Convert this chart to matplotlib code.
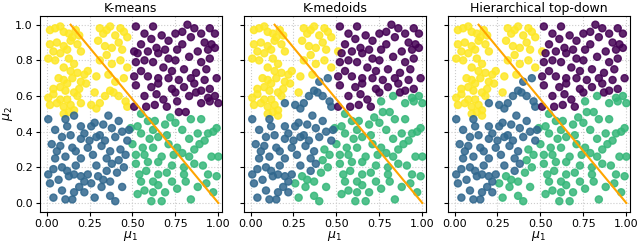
import matplotlib
matplotlib.use("Agg")
import matplotlib.pyplot as plt

# points: (mu1, mu2, k-means label, k-medoids label, hierarchical label)
# Y = yellow, P = purple, B = blue, G = green
points = [
    # upper left
    (0.02, 0.97, "Y", "Y", "Y"), (0.05, 0.98, "Y", "Y", "Y"), (0.08, 0.99, "Y", "Y", "Y"),
    (0.10, 0.96, "Y", "Y", "Y"), (0.13, 0.95, "Y", "Y", "Y"), (0.15, 0.93, "Y", "Y", "Y"),
    (0.17, 0.97, "Y", "Y", "Y"), (0.19, 0.94, "Y", "Y", "Y"), (0.02, 0.89, "Y", "Y", "Y"),
    (0.06, 0.90, "Y", "Y", "Y"), (0.10, 0.88, "Y", "Y", "Y"), (0.14, 0.91, "Y", "Y", "Y"),
    (0.18, 0.89, "Y", "Y", "Y"), (0.04, 0.85, "Y", "Y", "Y"), (0.08, 0.84, "Y", "Y", "Y"),
    (0.12, 0.86, "Y", "Y", "Y"), (0.20, 0.85, "Y", "Y", "Y"), (0.01, 0.81, "Y", "Y", "Y"),
    (0.05, 0.80, "Y", "Y", "Y"), (0.13, 0.81, "Y", "Y", "Y"), (0.16, 0.78, "Y", "Y", "Y"),
    (0.10, 0.76, "Y", "Y", "Y"), (0.14, 0.74, "Y", "Y", "Y"), (0.18, 0.73, "Y", "Y", "Y"),
    (0.22, 0.72, "Y", "Y", "Y"), (0.24, 0.74, "Y", "Y", "Y"), (0.07, 0.70, "Y", "Y", "Y"),
    (0.10, 0.69, "Y", "Y", "Y"), (0.12, 0.67, "Y", "Y", "Y"), (0.15, 0.70, "Y", "Y", "Y"),
    (0.20, 0.68, "Y", "Y", "Y"), (0.23, 0.67, "Y", "Y", "Y"), (0.04, 0.64, "Y", "Y", "Y"),
    (0.08, 0.65, "Y", "Y", "Y"), (0.11, 0.63, "Y", "Y", "Y"), (0.16, 0.62, "Y", "Y", "Y"),
    (0.19, 0.64, "Y", "Y", "Y"), (0.01, 0.59, "Y", "Y", "Y"), (0.04, 0.61, "Y", "Y", "Y"),
    (0.08, 0.58, "Y", "Y", "Y"), (0.12, 0.58, "Y", "Y", "Y"), (0.18, 0.60, "Y", "Y", "Y"),
    (0.02, 0.55, "Y", "Y", "Y"), (0.06, 0.56, "Y", "Y", "Y"), (0.10, 0.54, "Y", "Y", "Y"),
    (0.14, 0.55, "Y", "Y", "Y"), (0.20, 0.56, "Y", "B", "B"), (0.26, 0.55, "Y", "B", "B"),
    (0.29, 0.53, "Y", "B", "B"), (0.10, 0.50, "Y", "Y", "Y"), (0.13, 0.51, "Y", "Y", "Y"),
    (0.16, 0.52, "Y", "Y", "Y"), (0.31, 0.98, "Y", "Y", "Y"), (0.33, 0.95, "Y", "Y", "Y"),
    (0.35, 0.97, "Y", "Y", "Y"), (0.37, 0.99, "Y", "Y", "Y"), (0.40, 0.94, "Y", "Y", "Y"),
    (0.43, 0.98, "Y", "Y", "Y"), (0.45, 0.96, "Y", "Y", "Y"), (0.47, 0.93, "Y", "Y", "Y"),
    (0.30, 0.91, "Y", "Y", "Y"), (0.34, 0.88, "Y", "Y", "Y"), (0.38, 0.87, "Y", "Y", "Y"),
    (0.42, 0.90, "Y", "Y", "Y"), (0.44, 0.86, "Y", "Y", "Y"), (0.31, 0.80, "Y", "Y", "Y"),
    (0.35, 0.83, "Y", "Y", "Y"), (0.38, 0.78, "Y", "Y", "Y"), (0.43, 0.80, "Y", "Y", "Y"),
    (0.47, 0.76, "Y", "Y", "Y"), (0.29, 0.71, "Y", "Y", "Y"), (0.36, 0.72, "Y", "Y", "Y"),
    (0.40, 0.68, "Y", "B", "B"), (0.45, 0.70, "Y", "B", "B"), (0.28, 0.62, "Y", "Y", "Y"),
    (0.34, 0.60, "Y", "B", "B"), (0.37, 0.63, "Y", "B", "B"), (0.39, 0.62, "Y", "B", "B"),
    (0.42, 0.60, "Y", "B", "B"), (0.46, 0.57, "Y", "B", "B"), (0.31, 0.56, "Y", "B", "B"),
    (0.47, 0.54, "Y", "B", "B"),
    # upper right
    (0.52, 0.99, "P", "P", "P"), (0.62, 0.99, "P", "P", "P"), (0.82, 1.00, "P", "P", "P"),
    (0.86, 0.98, "P", "P", "P"), (0.75, 0.95, "P", "P", "P"), (0.79, 0.96, "P", "P", "P"),
    (0.90, 0.95, "P", "P", "P"), (0.95, 0.98, "P", "P", "P"), (0.98, 0.95, "P", "P", "P"),
    (0.57, 0.95, "P", "P", "P"), (0.67, 0.94, "P", "P", "P"), (0.71, 0.91, "P", "P", "P"),
    (0.84, 0.93, "P", "P", "P"), (0.92, 0.90, "P", "P", "P"), (0.96, 0.89, "P", "P", "P"),
    (0.94, 0.86, "P", "P", "P"), (0.51, 0.85, "P", "Y", "Y"), (0.53, 0.84, "P", "P", "P"),
    (0.59, 0.85, "P", "P", "P"), (0.64, 0.87, "P", "P", "P"), (0.65, 0.84, "P", "P", "P"),
    (0.76, 0.86, "P", "P", "P"), (0.88, 0.85, "P", "P", "P"), (0.98, 0.87, "P", "P", "P"),
    (0.52, 0.79, "P", "P", "P"), (0.57, 0.80, "P", "P", "P"), (0.62, 0.79, "P", "P", "P"),
    (0.71, 0.81, "P", "P", "P"), (0.75, 0.80, "P", "P", "P"), (0.83, 0.82, "P", "P", "P"),
    (0.90, 0.79, "P", "P", "P"), (0.95, 0.81, "P", "P", "P"), (0.55, 0.74, "P", "P", "P"),
    (0.68, 0.76, "P", "P", "P"), (0.73, 0.74, "P", "P", "P"), (0.80, 0.75, "P", "P", "P"),
    (0.87, 0.73, "P", "P", "P"), (0.93, 0.75, "P", "P", "P"), (0.51, 0.71, "P", "P", "P"),
    (0.59, 0.71, "P", "P", "P"), (0.65, 0.70, "P", "P", "P"), (0.71, 0.70, "P", "P", "P"),
    (0.84, 0.70, "P", "P", "P"), (0.99, 0.70, "P", "P", "P"), (0.52, 0.66, "P", "P", "P"),
    (0.65, 0.67, "P", "P", "P"), (0.73, 0.64, "P", "P", "P"), (0.80, 0.65, "P", "P", "P"),
    (0.90, 0.63, "P", "P", "P"), (0.95, 0.64, "P", "P", "P"), (0.57, 0.60, "P", "P", "P"),
    (0.64, 0.61, "P", "P", "P"), (0.75, 0.62, "P", "P", "P"), (0.83, 0.60, "P", "G", "G"),
    (0.87, 0.62, "P", "P", "P"), (0.94, 0.59, "P", "G", "G"), (0.98, 0.60, "P", "G", "G"),
    (0.51, 0.54, "P", "P", "P"), (0.58, 0.54, "P", "P", "P"), (0.63, 0.55, "P", "P", "P"),
    (0.70, 0.54, "P", "P", "P"), (0.76, 0.57, "P", "G", "G"), (0.77, 0.51, "P", "G", "G"),
    (0.81, 0.51, "P", "G", "G"), (0.90, 0.56, "P", "G", "G"), (1.00, 0.56, "P", "G", "G"),
    (0.95, 0.57, "P", "G", "G"), (0.61, 0.92, "P", "P", "P"), (0.79, 0.89, "P", "P", "P"),
    (0.69, 0.86, "P", "P", "P"), (0.55, 0.89, "P", "P", "P"), (0.86, 0.67, "P", "P", "P"),
    (0.77, 0.69, "P", "P", "P"), (0.61, 0.65, "P", "P", "P"), (0.68, 0.58, "P", "P", "P"),
    (0.92, 0.69, "P", "P", "P"),
    # lower right
    (0.49, 0.42, "G", "G", "G"), (0.53, 0.43, "G", "G", "G"), (0.55, 0.50, "G", "G", "G"),
    (0.59, 0.46, "G", "G", "G"), (0.69, 0.44, "G", "G", "G"), (0.75, 0.45, "G", "G", "G"),
    (0.84, 0.47, "G", "G", "G"), (0.90, 0.47, "G", "G", "G"), (0.99, 0.42, "G", "G", "G"),
    (0.55, 0.39, "G", "G", "G"), (0.62, 0.41, "G", "G", "G"), (0.65, 0.37, "G", "G", "G"),
    (0.83, 0.36, "G", "G", "G"), (0.88, 0.39, "G", "G", "G"), (0.94, 0.39, "G", "G", "G"),
    (0.97, 0.40, "G", "G", "G"), (0.50, 0.33, "G", "G", "G"), (0.56, 0.31, "G", "G", "G"),
    (0.62, 0.31, "G", "G", "G"), (0.71, 0.33, "G", "G", "G"), (0.76, 0.31, "G", "G", "G"),
    (0.89, 0.33, "G", "G", "G"), (0.92, 0.35, "G", "G", "G"), (0.52, 0.27, "G", "G", "G"),
    (0.57, 0.27, "G", "G", "G"), (0.67, 0.26, "G", "G", "G"), (0.79, 0.28, "G", "G", "G"),
    (0.83, 0.26, "G", "G", "G"), (0.96, 0.26, "G", "G", "G"), (1.00, 0.26, "G", "G", "G"),
    (0.52, 0.22, "G", "G", "G"), (0.59, 0.23, "G", "G", "G"), (0.65, 0.23, "G", "G", "G"),
    (0.73, 0.21, "G", "G", "G"), (0.80, 0.20, "G", "G", "G"), (0.86, 0.22, "G", "G", "G"),
    (0.58, 0.18, "G", "G", "G"), (0.65, 0.16, "G", "G", "G"), (0.70, 0.17, "G", "G", "G"),
    (0.80, 0.16, "G", "G", "G"), (0.94, 0.16, "G", "G", "G"), (0.99, 0.15, "G", "G", "G"),
    (0.55, 0.12, "G", "G", "G"), (0.62, 0.12, "G", "G", "G"), (0.65, 0.10, "G", "G", "G"),
    (0.73, 0.12, "G", "G", "G"), (0.88, 0.09, "G", "G", "G"), (0.93, 0.11, "G", "G", "G"),
    (0.53, 0.05, "G", "G", "G"), (0.57, 0.07, "G", "G", "G"), (0.62, 0.06, "G", "G", "G"),
    (0.61, 0.01, "G", "G", "G"), (0.67, 0.01, "G", "G", "G"), (0.84, 0.02, "G", "G", "G"),
    (0.60, 0.36, "G", "G", "G"), (0.70, 0.38, "G", "G", "G"), (0.79, 0.41, "G", "G", "G"),
    (0.86, 0.30, "G", "G", "G"), (0.74, 0.27, "G", "G", "G"), (0.91, 0.21, "G", "G", "G"),
    (0.54, 0.16, "G", "G", "G"), (0.76, 0.08, "G", "G", "G"), (0.69, 0.06, "G", "G", "G"),
    (0.97, 0.06, "G", "G", "G"), (0.81, 0.12, "G", "G", "G"), (0.63, 0.46, "G", "G", "G"),
    (0.72, 0.48, "G", "G", "G"),
    # lower left
    (0.01, 0.47, "B", "B", "B"), (0.11, 0.47, "B", "B", "B"), (0.16, 0.49, "B", "Y", "Y"),
    (0.12, 0.43, "B", "B", "B"), (0.20, 0.43, "B", "B", "B"), (0.26, 0.43, "B", "B", "B"),
    (0.36, 0.49, "B", "B", "B"), (0.42, 0.46, "B", "B", "B"), (0.48, 0.41, "B", "B", "B"),
    (0.38, 0.42, "B", "B", "B"), (0.03, 0.33, "B", "B", "B"), (0.08, 0.32, "B", "B", "B"),
    (0.15, 0.31, "B", "B", "B"), (0.20, 0.36, "B", "B", "B"), (0.25, 0.35, "B", "B", "B"),
    (0.29, 0.37, "B", "B", "B"), (0.31, 0.38, "B", "B", "B"), (0.34, 0.35, "B", "B", "B"),
    (0.40, 0.37, "B", "B", "B"), (0.47, 0.35, "B", "B", "B"), (0.06, 0.29, "B", "B", "B"),
    (0.05, 0.25, "B", "B", "B"), (0.17, 0.29, "B", "B", "B"), (0.24, 0.31, "B", "B", "B"),
    (0.32, 0.32, "B", "B", "B"), (0.37, 0.29, "B", "B", "B"), (0.43, 0.30, "B", "G", "G"),
    (0.46, 0.27, "B", "G", "G"), (0.42, 0.24, "B", "G", "G"), (0.01, 0.16, "B", "B", "B"),
    (0.09, 0.20, "B", "B", "B"), (0.17, 0.21, "B", "B", "B"), (0.24, 0.16, "B", "B", "B"),
    (0.29, 0.21, "B", "B", "B"), (0.38, 0.22, "B", "B", "B"), (0.41, 0.17, "B", "G", "G"),
    (0.02, 0.11, "B", "B", "B"), (0.07, 0.13, "B", "B", "B"), (0.13, 0.15, "B", "B", "B"),
    (0.16, 0.16, "B", "B", "B"), (0.20, 0.15, "B", "B", "B"), (0.30, 0.15, "B", "G", "G"),
    (0.33, 0.13, "B", "G", "G"), (0.37, 0.12, "B", "G", "G"), (0.44, 0.09, "B", "G", "G"),
    (0.04, 0.03, "B", "B", "B"), (0.11, 0.02, "B", "B", "B"), (0.15, 0.02, "B", "B", "B"),
    (0.19, 0.09, "B", "B", "B"), (0.22, 0.06, "B", "B", "B"), (0.32, 0.09, "B", "G", "G"),
    (0.37, 0.04, "B", "G", "G"), (0.40, 0.01, "B", "G", "G"), (0.05, 0.41, "B", "B", "B"),
    (0.09, 0.37, "B", "B", "B"), (0.14, 0.38, "B", "B", "B"), (0.22, 0.39, "B", "B", "B"),
    (0.28, 0.45, "B", "B", "B"), (0.33, 0.44, "B", "B", "B"), (0.44, 0.40, "B", "B", "B"),
    (0.11, 0.26, "B", "B", "B"), (0.20, 0.25, "B", "B", "B"), (0.27, 0.27, "B", "B", "B"),
    (0.35, 0.25, "B", "B", "B"), (0.04, 0.19, "B", "B", "B"), (0.12, 0.18, "B", "B", "B"),
    (0.26, 0.11, "B", "G", "G"), (0.09, 0.07, "B", "B", "B"), (0.16, 0.06, "B", "B", "B"),
    (0.28, 0.03, "B", "G", "G"), (0.45, 0.20, "B", "G", "G"), (0.22, 0.12, "B", "B", "B"),
    (0.35, 0.18, "B", "B", "B"),
]

mu1 = [p[0] for p in points]
mu2 = [p[1] for p in points]
labels = {
    "K-means": [p[2] for p in points],
    "K-medoids": [p[3] for p in points],
    "Hierarchical top-down": [p[4] for p in points],
}

# orange boundary line
line_x = [0.14, 1.0]
line_y = [1.0, 0.0]

palette = {"P": "#440154", "B": "#31688e", "G": "#35b779", "Y": "#fde725"}

fig, axes = plt.subplots(1, 3, figsize=(6.4, 2.43), dpi=100, sharey=True)
fig.subplots_adjust(left=0.062, right=0.984, top=0.935, bottom=0.128, wspace=0.12)

for ax, (title, lab) in zip(axes, labels.items()):
    cols = [palette[c] for c in lab]
    ax.scatter(mu1, mu2, c=cols, s=26, alpha=0.85, linewidths=1, zorder=2)
    ax.plot(line_x, line_y, color="orange", lw=1.5, zorder=3)
    ax.set_title(title, fontsize=9, pad=3)
    ax.set_xlim(-0.04, 1.02)
    ax.set_ylim(-0.05, 1.05)
    ax.set_xticks([0.0, 0.25, 0.5, 0.75, 1.0])
    ax.set_yticks([0.0, 0.2, 0.4, 0.6, 0.8, 1.0])
    ax.grid(True, linestyle=":", color="#cccccc", linewidth=0.8, zorder=0)
    ax.tick_params(labelsize=8, length=3, pad=2)
    ax.set_xlabel(r"$\mu_1$", fontsize=9, labelpad=0)

axes[0].set_ylabel(r"$\mu_2$", fontsize=9, labelpad=0)

plt.savefig("out.png", dpi=100)
plt.close()
